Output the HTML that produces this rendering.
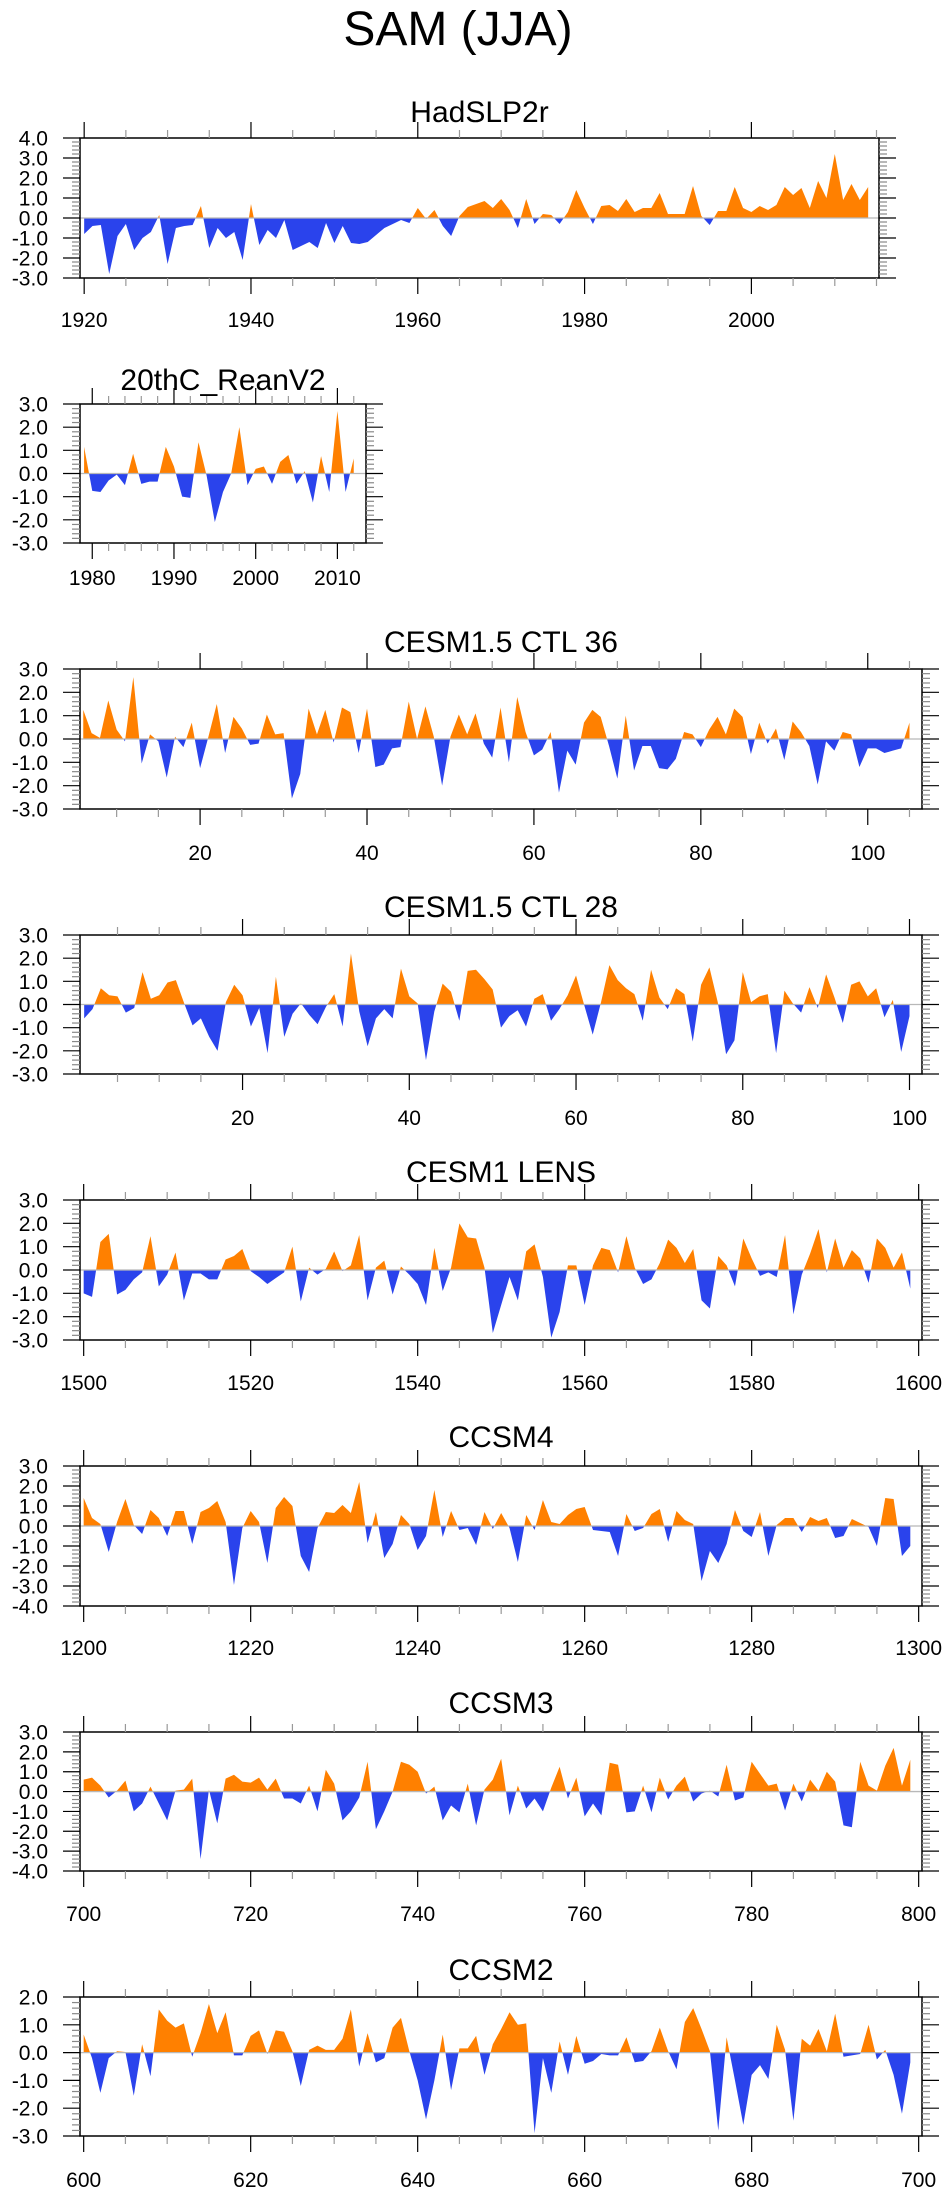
<!DOCTYPE html>
<html><head><meta charset="utf-8"><title>SAM (JJA)</title>
<style>
html,body{margin:0;padding:0;background:#fff;}
svg{display:block;font-family:"Liberation Sans",Arial,sans-serif;}
</style></head>
<body>
<svg id="fig" width="946" height="2195" viewBox="0 0 946 2195" xmlns="http://www.w3.org/2000/svg">
<text x="458" y="45" font-size="48" text-anchor="middle" fill="#000">SAM (JJA)</text>
</svg>
<script>
// ---- data (one value per year) ----
const hadslpStart = 1920;
const hadslpValues = [-0.8,-0.4,-0.35,-2.8,-0.9,-0.3,-1.6,-1.0,-0.7,0.15,-2.3,-0.5,-0.4,-0.35,0.6,-1.5,-0.5,-1.0,-0.7,-2.1,0.7,-1.35,-0.6,-1.0,-0.1,-1.6,-1.4,-1.2,-1.5,-0.25,-1.25,-0.4,-1.25,-1.3,-1.2,-0.85,-0.5,-0.3,-0.1,-0.25,0.5,-0.05,0.4,-0.4,-0.9,0.1,0.55,0.7,0.85,0.5,0.95,0.4,-0.5,0.95,-0.3,0.2,0.15,-0.3,0.3,1.4,0.5,-0.3,0.6,0.65,0.35,0.95,0.3,0.5,0.5,1.25,0.2,0.2,0.2,1.6,0.1,-0.35,0.35,0.35,1.55,0.5,0.3,0.6,0.4,0.65,1.55,1.15,1.5,0.5,1.85,1.0,3.2,0.9,1.7,0.9,1.55];
const reanStart = 1979;
const reanValues = [1.15,-0.75,-0.8,-0.3,-0.05,-0.5,0.85,-0.45,-0.35,-0.35,1.15,0.3,-1.0,-1.05,1.35,-0.1,-2.1,-0.8,0.0,2.0,-0.5,0.2,0.3,-0.45,0.5,0.8,-0.45,0.1,-1.25,0.75,-0.8,2.7,-0.8,0.65];
const ctl36Start = 6;
const ctl36Values = [1.25,0.25,0.05,1.65,0.4,-0.1,2.65,-1.05,0.2,-0.1,-1.65,0.1,-0.35,0.7,-1.25,0.1,1.5,-0.6,0.95,0.45,-0.25,-0.2,1.05,0.2,0.25,-2.55,-1.5,1.3,0.2,1.25,-0.15,1.35,1.15,-0.6,1.3,-1.2,-1.1,-0.4,-0.35,1.6,0,1.4,0.1,-2.0,0.1,1.05,0.2,1.1,-0.2,-0.8,1.35,-1.0,1.8,0.3,-0.7,-0.45,0.3,-2.3,-0.5,-1.1,0.7,1.25,0.95,-0.3,-1.7,1.0,-1.35,-0.3,-0.3,-1.25,-1.3,-0.85,0.3,0.2,-0.35,0.4,0.95,0.2,1.3,0.95,-0.65,0.7,-0.2,0.45,-0.9,0.75,0.3,-0.3,-1.95,-0.1,-0.5,0.3,0.2,-1.2,-0.4,-0.4,-0.6,-0.5,-0.4,0.7];
const ctl28Start = 1;
const ctl28Values = [-0.6,-0.2,0.7,0.4,0.35,-0.35,-0.15,1.4,0.25,0.4,0.95,1.05,0.05,-0.9,-0.6,-1.4,-2.0,0.1,0.85,0.4,-0.95,-0.15,-2.1,1.2,-1.4,-0.4,0.05,-0.45,-0.85,-0.1,0.45,-0.95,2.2,-0.3,-1.8,-0.6,-0.2,-0.6,1.55,0.35,0.05,-2.4,-0.3,0.9,0.55,-0.7,1.45,1.5,1.1,0.65,-1.0,-0.5,-0.25,-0.95,0.25,0.45,-0.7,-0.2,0.4,1.25,-0.05,-1.3,0.1,1.7,1.05,0.7,0.45,-0.7,1.5,0.3,-0.2,0.7,0.45,-1.6,0.85,1.6,0.1,-2.15,-1.55,1.4,0.1,0.35,0.45,-2.1,0.6,0.05,-0.35,0.75,-0.15,1.3,0.3,-0.8,0.85,1.0,0.35,0.7,-0.55,0.2,-2.05,-0.5];
const lensStart = 1500;
const lensValues = [-1.0,-1.15,1.2,1.55,-1.05,-0.85,-0.4,-0.1,1.45,-0.7,-0.2,0.75,-1.3,-0.15,-0.15,-0.4,-0.4,0.45,0.6,0.9,-0.05,-0.3,-0.6,-0.35,-0.1,1.0,-1.35,0.1,-0.2,0.05,0.8,-0.05,0.2,1.5,-1.3,0.1,0.4,-1.05,0.15,-0.2,-0.6,-1.5,0.95,-0.9,0.1,2.0,1.4,1.35,0.1,-2.7,-1.5,-0.3,-1.3,0.8,1.1,-0.3,-2.9,-1.8,0.2,0.2,-1.5,0.2,0.95,0.85,-0.1,1.45,0.1,-0.6,-0.4,0.3,1.3,0.95,0.3,0.9,-1.3,-1.65,0.6,0.2,-0.7,1.35,0.5,-0.25,-0.1,-0.3,1.5,-1.9,-0.2,0.7,1.75,-0.1,1.35,0.1,0.85,0.5,-0.55,1.35,0.95,0.1,0.75,-0.8];
const ccsm4Start = 1200;
const ccsm4Values = [1.4,0.4,0.1,-1.3,0.2,1.35,0.05,-0.4,0.8,0.4,-0.5,0.75,0.75,-0.9,0.7,0.9,1.25,0.2,-2.95,-0.1,0.75,0.2,-1.85,0.9,1.45,1.0,-1.5,-2.3,-0.1,0.7,0.65,1.05,0.65,2.2,-0.85,0.7,-1.6,-0.9,0.55,0.1,-1.2,-0.5,1.8,-0.55,0.75,-0.2,-0.1,-0.95,0.7,-0.15,0.65,-0.1,-1.8,0.55,-0.2,1.3,0.2,0.1,0.55,0.85,0.95,-0.2,-0.25,-0.3,-1.5,0.6,-0.25,-0.1,0.6,0.85,-0.8,0.75,0.3,0.1,-2.75,-1.25,-1.85,-0.9,0.8,-0.25,-0.55,0.7,-1.5,0.05,0.4,0.4,-0.3,0.45,0.25,0.4,-0.6,-0.5,0.35,0.15,-0.05,-1.0,1.4,1.35,-1.5,-1.0];
const ccsm3Start = 700;
const ccsm3Values = [0.6,0.7,0.3,-0.3,0.05,0.55,-1.0,-0.6,0.25,-0.6,-1.45,0.05,0.1,0.65,-3.4,0.1,-1.6,0.65,0.85,0.5,0.45,0.7,0.1,0.65,-0.35,-0.35,-0.6,0.3,-1.0,1.1,0.4,-1.45,-1.0,-0.3,1.5,-1.9,-1.0,0.0,1.5,1.35,1.0,-0.1,0.25,-1.45,-0.7,-1.05,0.4,-1.7,0.1,0.6,1.65,-1.2,0.3,-0.85,-0.35,-1.0,0.2,1.25,-0.35,0.7,-1.25,-0.6,-1.2,1.45,1.35,-1.05,-1.0,0.3,-1.05,0.7,-0.4,0.3,0.75,-0.5,-0.1,0.05,-0.25,1.35,-0.45,-0.3,1.5,0.9,0.3,0.4,-0.95,0.4,-0.5,0.6,0.05,1.0,0.5,-1.7,-1.8,1.5,0.3,0.05,1.3,2.2,0.3,1.6];
const ccsm2Start = 600;
const ccsm2Values = [0.65,-0.2,-1.45,-0.2,0.05,0.02,-1.55,0.3,-0.85,1.55,1.15,0.9,1.05,-0.15,0.7,1.75,0.7,1.45,-0.1,-0.1,0.6,0.8,-0.05,0.8,0.75,0.05,-1.2,0.1,0.25,0.1,0.1,0.5,1.55,-0.5,0.7,-0.35,-0.2,0.9,1.25,0.05,-1.0,-2.4,-1.0,0.65,-1.35,0.15,0.15,0.6,-0.8,0.3,0.85,1.45,1.0,1.05,-2.9,-0.2,-1.45,0.4,-0.8,0.6,-0.4,-0.3,-0.05,-0.1,-0.1,0.55,-0.35,-0.3,0.05,0.9,0.05,-0.6,1.1,1.6,0.85,0.05,-2.8,0.55,-1.0,-2.6,-0.8,-0.45,-0.95,1.0,0.1,-2.45,0.5,0.25,0.85,0.05,1.4,-0.15,-0.1,-0.05,1.0,-0.25,0.1,-0.8,-2.2,-0.35];
// tick labels
const xTicksHad = [1920,1940,1960,1980,2000];
const xTicksRean = [1980,1990,2000,2010];
const xTicksCtl36 = [20,40,60,80,100];
const xTicksCtl28 = [20,40,60,80,100];
const xTicksLens = [1500,1520,1540,1560,1580,1600];
const xTicksC4 = [1200,1220,1240,1260,1280,1300];
const xTicksC3 = [700,720,740,760,780,800];
const xTicksC2 = [600,620,640,660,680,700];

const panels = [
 {name:'hadslp2r', title:'HadSLP2r', start:hadslpStart, vals:hadslpValues, ticks:xTicksHad, minor:5, x0:1919.5, x1:2015.3, L:80, R:879, T:138, B:278, ymin:-3, ymax:4, ty:122, ly:327},
 {name:'20thc-reanv2', title:'20thC_ReanV2', start:reanStart, vals:reanValues, ticks:xTicksRean, minor:2, x0:1978.5, x1:2013.5, L:80, R:366, T:404, B:543, ymin:-3, ymax:3, ty:390, ly:585},
 {name:'cesm15-ctl36', title:'CESM1.5 CTL 36', start:ctl36Start, vals:ctl36Values, ticks:xTicksCtl36, minor:5, x0:5.61, x1:106.5, L:80, R:922, T:669, B:809, ymin:-3, ymax:3, ty:652, ly:860},
 {name:'cesm15-ctl28', title:'CESM1.5 CTL 28', start:ctl28Start, vals:ctl28Values, ticks:xTicksCtl28, minor:5, x0:0.5, x1:101.5, L:80, R:922, T:935, B:1074, ymin:-3, ymax:3, ty:917, ly:1125},
 {name:'cesm1-lens', title:'CESM1 LENS', start:lensStart, vals:lensValues, ticks:xTicksLens, minor:5, x0:1499.56, x1:1600.4, L:80, R:922, T:1200, B:1340, ymin:-3, ymax:3, ty:1182, ly:1390},
 {name:'ccsm4', title:'CCSM4', start:ccsm4Start, vals:ccsm4Values, ticks:xTicksC4, minor:5, x0:1199.56, x1:1300.4, L:80, R:922, T:1466, B:1606, ymin:-4, ymax:3, ty:1447, ly:1655},
 {name:'ccsm3', title:'CCSM3', start:ccsm3Start, vals:ccsm3Values, ticks:xTicksC3, minor:5, x0:699.56, x1:800.4, L:80, R:922, T:1732, B:1871, ymin:-4, ymax:3, ty:1713, ly:1921},
 {name:'ccsm2', title:'CCSM2', start:ccsm2Start, vals:ccsm2Values, ticks:xTicksC2, minor:5, x0:599.56, x1:700.4, L:80, R:922, T:1997, B:2136, ymin:-3, ymax:2, ty:1980, ly:2187}
];

const NS='http://www.w3.org/2000/svg';
const svg=document.getElementById('fig');
function mk(tag, parent, attrs){const e=document.createElementNS(NS,tag);for(const k in attrs)e.setAttribute(k,attrs[k]);parent.appendChild(e);return e;}

panels.forEach((p,pi)=>{
  const g=mk('g',svg,{});
  
  
  const xs=v=>p.L+(v-p.x0)/(p.x1-p.x0)*(p.R-p.L);
  const ys=v=>p.B-(v-p.ymin)/(p.ymax-p.ymin)*(p.B-p.T);
  const y0=ys(0);
  // clip paths
  const defs=mk('defs',g,{});
  const cpA=mk('clipPath',defs,{id:'above'+pi});
  mk('rect',cpA,{x:p.L,y:p.T-50,width:p.R-p.L,height:y0-p.T+50});
  const cpB=mk('clipPath',defs,{id:'below'+pi});
  mk('rect',cpB,{x:p.L,y:y0,width:p.R-p.L,height:p.B-y0+50});
  let d='M'+xs(p.start).toFixed(2)+','+y0.toFixed(2);
  p.vals.forEach((v,i)=>{d+=' L'+xs(p.start+i).toFixed(2)+','+ys(v).toFixed(2);});
  d+=' L'+xs(p.start+p.vals.length-1).toFixed(2)+','+y0.toFixed(2)+' Z';
  const pos=mk('path',g,{d:d,fill:'#ff8000','clip-path':'url(#above'+pi+')'});
  
  
  const neg=mk('path',g,{d:d,fill:'#2a43ec','clip-path':'url(#below'+pi+')'});
  
  
  const zl=mk('line',g,{x1:p.L,x2:p.R,y1:y0,y2:y0,stroke:'#b8b8b8','stroke-width':1.3});
  
  
  // frame
  const fr=mk('rect',g,{x:p.L,y:p.T,width:p.R-p.L,height:p.B-p.T,fill:'none',stroke:'#000','stroke-width':1.5});
  
  
  // x ticks
  const tg=mk('g',g,{});
  
  
  const first=Math.ceil(p.x0/p.minor)*p.minor;
  for(let t=first;t<=p.x1;t+=p.minor){
    const x=xs(t);
    const major=p.ticks.includes(t);
    const len=major?16:8, col=major?'#000':'#999';
    mk('line',tg,{x1:x,x2:x,y1:p.B,y2:p.B+len,stroke:col,'stroke-width':1.2});
    mk('line',tg,{x1:x,x2:x,y1:p.T,y2:p.T-len,stroke:col,'stroke-width':1.2});
  }
  p.ticks.forEach(t=>{
    const lab=mk('text',tg,{x:xs(t),y:p.ly,'font-size':21,'text-anchor':'middle',fill:'#000'});
    lab.textContent=String(t);
    
    
  });
  // y ticks
  const yg=mk('g',g,{});
  
  
  for(let k=Math.round(p.ymin*5);k<=Math.round(p.ymax*5);k++){
    const v=k/5, y=ys(v), major=(k%5===0);
    const len=major?17:8, col=major?'#000':'#888';
    mk('line',yg,{x1:p.L,x2:p.L-len,y1:y,y2:y,stroke:col,'stroke-width':1.2});
    mk('line',yg,{x1:p.R,x2:p.R+len,y1:y,y2:y,stroke:col,'stroke-width':1.2});
    if(major){
      const lab=mk('text',yg,{x:48,y:y+7.5,'font-size':21,'text-anchor':'end',fill:'#000'});
      lab.textContent=v.toFixed(1);
      
      
    }
  }
  const tt=mk('text',g,{x:(p.L+p.R)/2,y:p.ty,'font-size':30,'text-anchor':'middle',fill:'#000'});
  tt.textContent=p.title;
  
  
});
</script>
</body></html>
